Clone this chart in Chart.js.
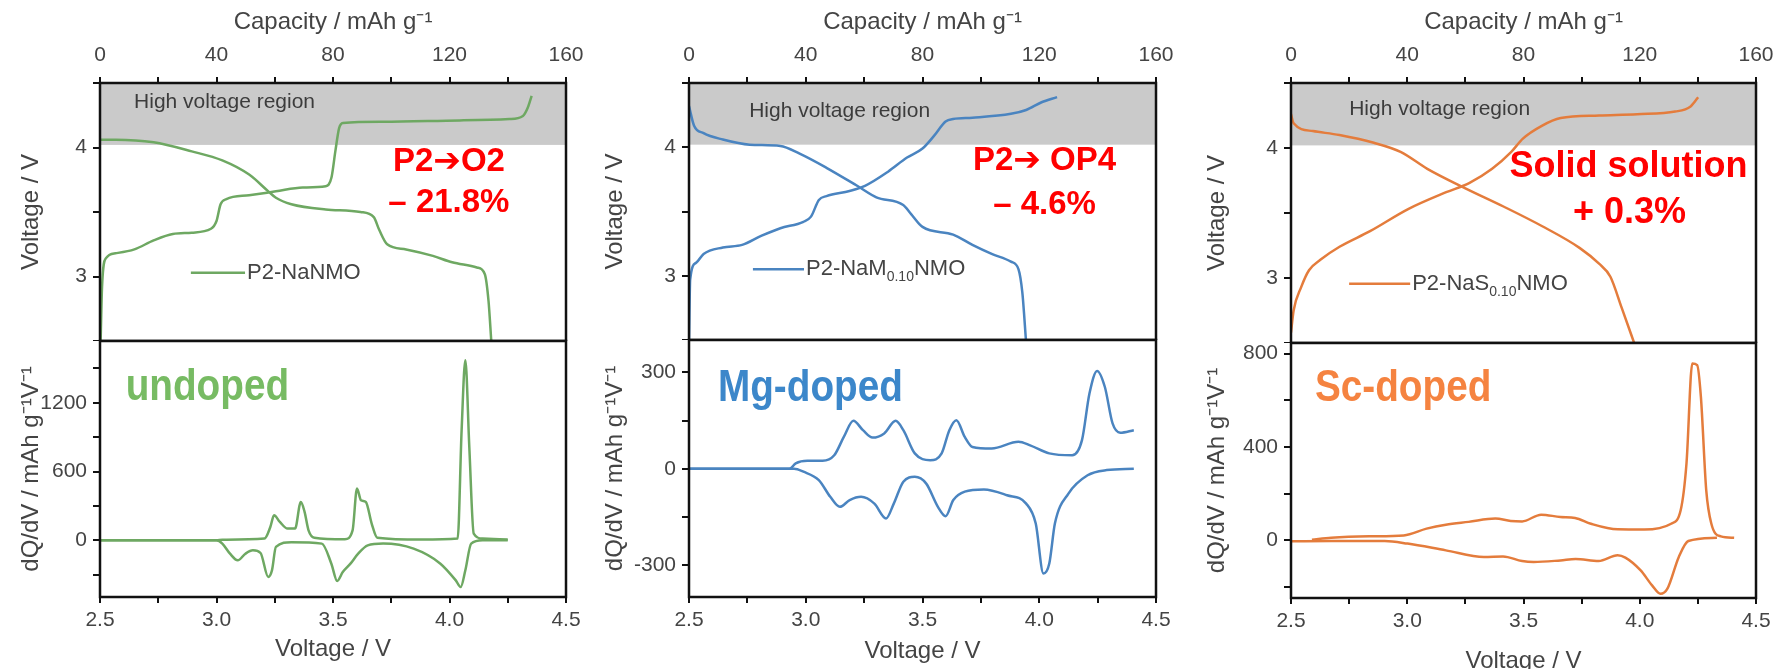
<!DOCTYPE html>
<html lang="en">
<head>
<meta charset="UTF-8">
<title>P2 cathodes: voltage profiles and dQ/dV</title>
<script src="https://cdn.jsdelivr.net/npm/chart.js"></script>
<style>
  html, body { margin: 0; padding: 0; background: #fff; overflow: hidden; }
  body { width: 1777px; height: 669px; position: relative; }
  canvas { position: absolute; }
</style>
</head>
<body>
<script>
  // ---- data ----
  // capacity (mAh/g) vs voltage (V), charge and discharge
  const undopedChargeCap = [0.2, 0.7, 2.0, 5.3, 11.8, 18.4, 25, 31.5, 38.1, 40, 41.4, 43.4, 51.2, 60.4, 69.6, 77.5, 79.5, 80.8, 82.1, 83.4, 97.2, 123.5, 140.6, 145.2, 146.9, 148.2];
  const undopedChargeV = [2.48, 2.92, 3.14, 3.18, 3.21, 3.28, 3.33, 3.34, 3.37, 3.43, 3.56, 3.60, 3.63, 3.66, 3.69, 3.70, 3.77, 3.97, 4.15, 4.19, 4.20, 4.21, 4.22, 4.245, 4.31, 4.40];
  const undopedDischargeCap = [0, 5.3, 18.4, 31.5, 42, 51.2, 57.8, 60.4, 65.7, 77.5, 89.4, 94, 95.9, 98.6, 105.1, 114.3, 120.9, 129.4, 132.1, 133.4, 134.4];
  const undopedDischargeV = [4.06, 4.06, 4.04, 3.97, 3.90, 3.79, 3.66, 3.61, 3.56, 3.52, 3.50, 3.46, 3.36, 3.25, 3.21, 3.16, 3.11, 3.07, 3.02, 2.81, 2.48];

  const mgChargeCap = [0, 0.4, 2.4, 5, 11.6, 18.2, 24.7, 31.3, 39.2, 41.8, 44.5, 47.1, 55, 60.3, 68.2, 74.7, 80, 84, 87.9, 90.5, 97.1, 110.3, 115.5, 120.8, 126.1];
  const mgChargeV = [2.48, 2.97, 3.10, 3.17, 3.22, 3.24, 3.31, 3.37, 3.42, 3.46, 3.59, 3.62, 3.66, 3.70, 3.81, 3.92, 3.99, 4.09, 4.20, 4.22, 4.23, 4.26, 4.29, 4.35, 4.39];
  const mgDischargeCap = [0, 1.7, 5, 11.6, 20.8, 31.3, 37.9, 47.1, 57.6, 64.2, 73.4, 76.1, 80, 90.5, 97.1, 103.7, 110.3, 112.9, 114.2, 115.5];
  const mgDischargeV = [4.32, 4.17, 4.11, 4.06, 4.02, 4.01, 3.95, 3.84, 3.70, 3.61, 3.55, 3.48, 3.38, 3.32, 3.24, 3.17, 3.11, 3.05, 2.87, 2.48];

  const scChargeCap = [0, 0.9, 3.5, 6.2, 10.1, 16.7, 27.2, 40.3, 53.4, 61.3, 69.2, 75.8, 79.7, 86.3, 92.8, 106, 119.1, 132.2, 137.5, 140.1];
  const scChargeV = [2.58, 2.75, 2.93, 3.06, 3.14, 3.24, 3.36, 3.53, 3.66, 3.73, 3.84, 3.97, 4.07, 4.17, 4.23, 4.25, 4.26, 4.28, 4.32, 4.39];
  const scDischargeCap = [0, 0.9, 7.5, 16.7, 28.5, 37.7, 46.9, 60, 73.1, 86.3, 99.4, 106, 109.9, 113.8, 118.4];
  const scDischargeV = [4.26, 4.19, 4.13, 4.10, 4.04, 3.97, 3.84, 3.69, 3.55, 3.40, 3.23, 3.11, 3.01, 2.77, 2.48];

  // dQ/dV (mAh g-1 V-1) vs voltage (V), charge (upper) and discharge (lower)
  const undopedChgV = [2.5, 3.0, 3.025, 3.206, 3.231, 3.247, 3.272, 3.305, 3.337, 3.362, 3.378, 3.395, 3.42, 3.551, 3.584, 3.603, 3.62, 3.641, 3.666, 3.69, 3.879, 4.035, 4.052, 4.068, 4.085, 4.104, 4.142, 4.25];
  const undopedChgQ = [0, 0, 5, 15, 116, 218, 160, 102, 102, 335, 248, 87, 23, 9, 87, 452, 350, 335, 146, 23, 6, 15, 961, 1573, 815, 58, 15, 6];
  const undopedDisV = [2.5, 3.0, 3.025, 3.058, 3.091, 3.124, 3.156, 3.189, 3.222, 3.238, 3.255, 3.321, 3.452, 3.493, 3.518, 3.542, 3.575, 3.608, 3.649, 3.715, 3.846, 3.961, 4.027, 4.048, 4.068, 4.093, 4.142, 4.25];
  const undopedDisQ = [0, 0, -29, -117, -175, -117, -87, -111, -320, -262, -58, -17, -29, -204, -355, -277, -204, -117, -44, -29, -73, -204, -350, -408, -262, -29, 0, 0];

  const mgChgV = [2.5, 2.93, 2.957, 3.007, 3.072, 3.122, 3.163, 3.204, 3.245, 3.286, 3.336, 3.385, 3.418, 3.467, 3.533, 3.582, 3.615, 3.645, 3.681, 3.714, 3.796, 3.911, 3.961, 4.043, 4.141, 4.183, 4.215, 4.248, 4.281, 4.314, 4.347, 4.405];
  const mgChgQ = [0, 0, 17, 25, 25, 42, 99, 149, 120, 97, 110, 149, 120, 48, 27, 48, 120, 151, 99, 68, 63, 84, 73, 48, 42, 89, 234, 304, 254, 141, 112, 120];
  const mgDisV = [2.5, 2.95, 2.99, 3.056, 3.105, 3.146, 3.188, 3.237, 3.294, 3.344, 3.377, 3.418, 3.467, 3.516, 3.566, 3.599, 3.632, 3.681, 3.763, 3.862, 3.944, 3.985, 4.018, 4.043, 4.067, 4.125, 4.207, 4.289, 4.405];
  const mgDisQ = [0, 0, -9, -35, -87, -118, -97, -87, -108, -154, -108, -40, -25, -46, -118, -147, -97, -71, -64, -82, -108, -170, -325, -294, -170, -77, -20, -4, 0];

  const scChgV = [2.59, 2.673, 2.837, 2.985, 3.083, 3.166, 3.264, 3.379, 3.445, 3.494, 3.576, 3.659, 3.722, 3.79, 3.905, 4.02, 4.135, 4.176, 4.201, 4.226, 4.247, 4.263, 4.286, 4.308, 4.349, 4.406];
  const scChgQ = [3, 11, 17, 21, 50, 67, 79, 93, 83, 81, 110, 100, 96, 71, 47, 46, 71, 129, 329, 757, 750, 614, 214, 71, 17, 11];
  const scDisV = [2.5, 2.673, 2.903, 3.001, 3.166, 3.33, 3.412, 3.494, 3.544, 3.659, 3.724, 3.823, 3.905, 3.938, 4.004, 4.053, 4.089, 4.119, 4.168, 4.209, 4.332];
  const scDisQ = [-4, -3, -3, -14, -43, -71, -69, -89, -93, -86, -80, -89, -64, -74, -129, -193, -229, -207, -71, -3, 11];

  // axis ranges and tick steps
  const capRange = [0, 160], capStep = 20, capLabelStep = 40;
  const voltRange = [2.5, 4.5], voltStep = 0.5;
  const dqRanges = [[-495, 1740], [-398, 400], [-247, 845]];
  const dqSteps = [300, 150, 200];
  const dqLabelSteps = [600, 300, 400];
  const highVoltageFrom = 4.02;

  // ---- layout / style ----
  const FONT = "'Liberation Sans', Arial, sans-serif";
  const PLOT_TOP = 83, PAGE_BOTTOM = 690;
  const cols = [
    { left: 17, plotLeft: 100, plotRight: 566, right: 592, div: 341, bottom: 597, xTitlePad: 26 },
    { left: 601, plotLeft: 689, plotRight: 1156, right: 1182, div: 340, bottom: 597, xTitlePad: 24 },
    { left: 1203, plotLeft: 1291, plotRight: 1756, right: 1777, div: 343, bottom: 598, xTitlePad: 14 }
  ];

  const pts = (xs, ys) => xs.map((x, i) => ({ x, y: ys[i] }));
  const isMult = (v, s) => Math.abs(v / s - Math.round(v / s)) < 1e-6;

  function addCanvas(left, top, w, h) {
    const c = document.createElement('canvas');
    c.width = w; c.height = h;
    c.style.left = left + 'px'; c.style.top = top + 'px';
    c.style.width = w + 'px'; c.style.height = h + 'px';
    document.body.appendChild(c);
    return c;
  }

  function drawLabel(chart, t) {
    const { ctx, scales } = chart;
    const x = scales.x.getPixelForValue(t.x), y = scales.y.getPixelForValue(t.y);
    ctx.save();
    ctx.font = t.font;
    ctx.fillStyle = t.color;
    ctx.textAlign = t.align || 'left';
    ctx.textBaseline = t.baseline || 'middle';
    ctx.translate(x, y);
    ctx.scale(t.sx || 1, 1);
    ctx.fillText(t.text, 0, 0);
    ctx.restore();
  }

  function drawLegend(chart, lg) {
    const { ctx, scales } = chart;
    const x1 = scales.x.getPixelForValue(lg.from), x2 = scales.x.getPixelForValue(lg.to);
    const y = scales.y.getPixelForValue(lg.y);
    ctx.save();
    ctx.strokeStyle = lg.color;
    ctx.lineWidth = 2.5;
    ctx.beginPath(); ctx.moveTo(x1, y); ctx.lineTo(x2, y); ctx.stroke();
    let x = x2 + 2;
    ctx.fillStyle = '#444';
    ctx.textBaseline = 'middle';
    ctx.textAlign = 'left';
    lg.parts.forEach(p => {
      ctx.font = (p.sub ? '14px ' : '22px ') + FONT;
      ctx.fillText(p.text, x, p.sub ? y + 8 : y);
      x += ctx.measureText(p.text).width;
    });
    ctx.restore();
  }

  // shading, texts, legend and frame for one panel
  function decor(cfg) {
    return {
      id: 'decor',
      beforeDatasetsDraw(chart) {
        const { ctx, chartArea: a, scales } = chart;
        if (cfg.shadeFrom !== undefined) {
          const y0 = scales.y.getPixelForValue(cfg.shadeFrom);
          ctx.save();
          ctx.fillStyle = '#cacaca';
          ctx.fillRect(a.left, a.top, a.right - a.left, y0 - a.top);
          ctx.restore();
        }
        (cfg.under || []).forEach(t => drawLabel(chart, t));
      },
      afterDatasetsDraw(chart) {
        (cfg.over || []).forEach(t => drawLabel(chart, t));
        if (cfg.legend) drawLegend(chart, cfg.legend);
      },
      afterDraw(chart) {
        const { ctx, chartArea: a } = chart;
        ctx.save();
        ctx.strokeStyle = '#111';
        ctx.lineWidth = 2.5;
        ctx.strokeRect(a.left, a.top, a.right - a.left, a.bottom - a.top);
        ctx.restore();
      }
    };
  }

  function axis(extra) {
    return Object.assign({
      type: 'linear',
      border: { display: false },
      grid: { drawOnChartArea: false, drawTicks: true, tickLength: 6, color: '#111', lineWidth: 2 },
      title: { display: true, font: { family: FONT, size: 24 }, color: '#444', padding: 0 }
    }, extra);
  }

  function tickOpts(step, cb, padding) {
    return { stepSize: step, callback: cb, padding, font: { family: FONT, size: 21 }, color: '#444',
             includeBounds: false, autoSkip: false, maxRotation: 0 };
  }

  function line(data, color) {
    return { data, borderColor: color, borderWidth: 2.5, pointRadius: 0, fill: false,
             cubicInterpolationMode: 'monotone' };
  }

  function topChart(col, datasets, cfg) {
    const c = addCanvas(col.left, 0, col.right - col.left, col.div);
    return new Chart(c, {
      type: 'line',
      data: { datasets },
      options: {
        responsive: false, animation: false, devicePixelRatio: 1, events: [],
        layout: { padding: { left: 0, top: 0, right: col.right - col.plotRight, bottom: 0 } },
        plugins: { legend: { display: false }, tooltip: { enabled: false } },
        scales: {
          x: axis({
            position: 'top', min: capRange[0], max: capRange[1],
            ticks: tickOpts(capStep, v => isMult(v, capLabelStep) ? String(v) : '', 9),
            title: { display: true, text: 'Capacity / mAh g\u207B\u00B9', font: { family: FONT, size: 24 }, color: '#444', padding: { top: 8, bottom: 0 } },
            afterFit: s => { s.height = PLOT_TOP; s.paddingLeft = 0; s.paddingRight = 0; }
          }),
          y: axis({
            min: voltRange[0], max: voltRange[1],
            ticks: tickOpts(voltStep, v => isMult(v, 1) ? String(Math.round(v)) : '', 6),
            title: { display: true, text: 'Voltage / V', font: { family: FONT, size: 24 }, color: '#444', padding: 0 },
            grid: { drawOnChartArea: false, tickLength: 7, color: '#111', lineWidth: 2 },
            afterFit: s => { s.width = col.plotLeft - col.left; s.paddingTop = 0; s.paddingBottom = 0; }
          })
        }
      },
      plugins: [decor(cfg)]
    });
  }

  function bottomChart(col, i, datasets, cfg) {
    const top = col.div - 20;
    const c = addCanvas(col.left, top, col.right - col.left, PAGE_BOTTOM - top);
    return new Chart(c, {
      type: 'line',
      data: { datasets },
      options: {
        responsive: false, animation: false, devicePixelRatio: 1, events: [],
        layout: { padding: { left: 0, top: 20, right: col.right - col.plotRight, bottom: 0 } },
        plugins: { legend: { display: false }, tooltip: { enabled: false } },
        scales: {
          x: axis({
            position: 'bottom', min: voltRange[0], max: voltRange[1],
            ticks: tickOpts(0.25, v => isMult(v, 0.5) ? v.toFixed(1) : '', 5),
            title: { display: true, text: 'Voltage / V', font: { family: FONT, size: 24 }, color: '#444', padding: { top: 0, bottom: col.xTitlePad } },
            afterFit: s => { s.height = PAGE_BOTTOM - col.bottom; s.paddingLeft = 0; s.paddingRight = 0; }
          }),
          y: axis({
            min: dqRanges[i][0], max: dqRanges[i][1],
            ticks: tickOpts(dqSteps[i], v => isMult(v, dqLabelSteps[i]) ? String(v) : '', 6),
            title: { display: true, text: 'dQ/dV / mAh g\u207B\u00B9V\u207B\u00B9', font: { family: FONT, size: 24 }, color: '#444', padding: 0 },
            grid: { drawOnChartArea: false, tickLength: 7, color: '#111', lineWidth: 2 },
            afterFit: s => { s.width = col.plotLeft - col.left; s.paddingTop = 0; s.paddingBottom = 0; }
          })
        }
      },
      plugins: [decor(cfg)]
    });
  }

  const GREEN = '#6ea862', BLUE = '#4a84c0', ORANGE = '#e47c3c', RED = '#ff0000';
  const ARROW = '\u2794';
  const hvText = (x, y) => ({ text: 'High voltage region', x, y, font: '21px ' + FONT, color: '#3c3c3c' });
  const redText = (text, x, y, size) => ({ text, x, y, font: `bold ${size}px ${FONT}, 'DejaVu Sans'`, color: RED, align: 'center' });
  const tagText = (text, x, y, color) => ({ text, x, y, font: `bold 44px ${FONT}`, color, baseline: 'alphabetic', sx: 0.88 });

  // undoped
  topChart(cols[0], [
    line(pts(undopedChargeCap, undopedChargeV), GREEN),
    line(pts(undopedDischargeCap, undopedDischargeV), GREEN)
  ], {
    shadeFrom: highVoltageFrom,
    under: [hvText(11.7, 4.355)],
    over: [redText('P2' + ARROW + 'O2', 119.8, 3.89, 33), redText('\u2013 21.8%', 119.8, 3.57, 33)],
    legend: { from: 31.2, to: 49.8, y: 3.03, color: GREEN, parts: [{ text: 'P2-NaNMO' }] }
  });
  bottomChart(cols[0], 0, [
    line(pts(undopedChgV, undopedChgQ), GREEN),
    line(pts(undopedDisV, undopedDisQ), GREEN)
  ], { over: [tagText('undoped', 2.61, 1224, '#77bb63')] });

  // Mg-doped
  topChart(cols[1], [
    line(pts(mgChargeCap, mgChargeV), BLUE),
    line(pts(mgDischargeCap, mgDischargeV), BLUE)
  ], {
    shadeFrom: highVoltageFrom,
    under: [hvText(20.6, 4.28)],
    over: [redText('P2' + ARROW + ' OP4', 121.8, 3.89, 33), redText('\u2013 4.6%', 121.8, 3.55, 33)],
    legend: { from: 21.9, to: 39.4, y: 3.05, color: BLUE, parts: [{ text: 'P2-NaM' }, { text: '0.10', sub: true }, { text: 'NMO' }] }
  });
  bottomChart(cols[1], 1, [
    line(pts(mgChgV, mgChgQ), BLUE),
    line(pts(mgDisV, mgDisQ), BLUE)
  ], { over: [tagText('Mg-doped', 2.624, 211, '#3c87ca')] });

  // Sc-doped
  topChart(cols[2], [
    line(pts(scChargeCap, scChargeV), ORANGE),
    line(pts(scDischargeCap, scDischargeV), ORANGE)
  ], {
    shadeFrom: highVoltageFrom,
    under: [hvText(20, 4.295)],
    over: [redText('Solid solution', 116.1, 3.85, 36), redText('+ 0.3%', 116.5, 3.50, 36)],
    legend: { from: 20, to: 41, y: 2.956, color: ORANGE, parts: [{ text: 'P2-NaS' }, { text: '0.10', sub: true }, { text: 'NMO' }] }
  });
  bottomChart(cols[2], 2, [
    line(pts(scChgV, scChgQ), ORANGE),
    line(pts(scDisV, scDisQ), ORANGE)
  ], { over: [tagText('Sc-doped', 2.603, 597, '#f58340')] });
</script>
</body>
</html>
